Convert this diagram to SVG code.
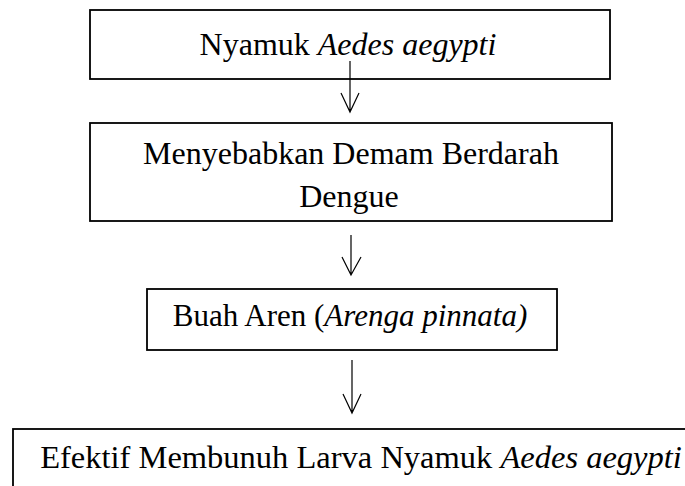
<svg xmlns="http://www.w3.org/2000/svg" width="685" height="486" viewBox="0 0 685 486">
<style>
.box{fill:#fff;stroke:#000;stroke-width:1.8}
.t{font-family:"Liberation Serif","Times New Roman",serif;font-size:32px;fill:#000;text-anchor:middle}
.i{font-style:italic}
.c{fill:none;stroke:#000;stroke-width:1.2}
</style>
<rect width="685" height="486" fill="#fff"/>
<g id="n1"><rect class="box" x="90" y="10" width="520" height="69"/><text class="t" x="348" y="55">Nyamuk <tspan class="i">Aedes aegypti</tspan></text></g>
<g id="n2"><rect class="box" x="90" y="123" width="522" height="98"/><text class="t" x="351" y="164">Menyebabkan Demam Berdarah</text><text class="t" x="349" y="207">Dengue</text></g>
<g id="n3"><rect class="box" x="147" y="289" width="410" height="61"/><text class="t" x="350" y="326" style="font-size:31px">Buah Aren (<tspan class="i">Arenga pinnata)</tspan></text></g>
<g id="n4"><rect class="box" x="13" y="429" width="720" height="100"/><text class="t" x="361" y="468" style="font-size:32.5px">Efektif Membunuh Larva Nyamuk <tspan class="i">Aedes aegypti</tspan></text></g>
<g id="connectors">
<path class="c" d="M350 61V112M341 93L350 112L359 93"/>
<path class="c" d="M351 235V275M342 257L351 275L361 257"/>
<path class="c" d="M352 360V413M343 394L352 413L361 394"/>
</g>
</svg>
